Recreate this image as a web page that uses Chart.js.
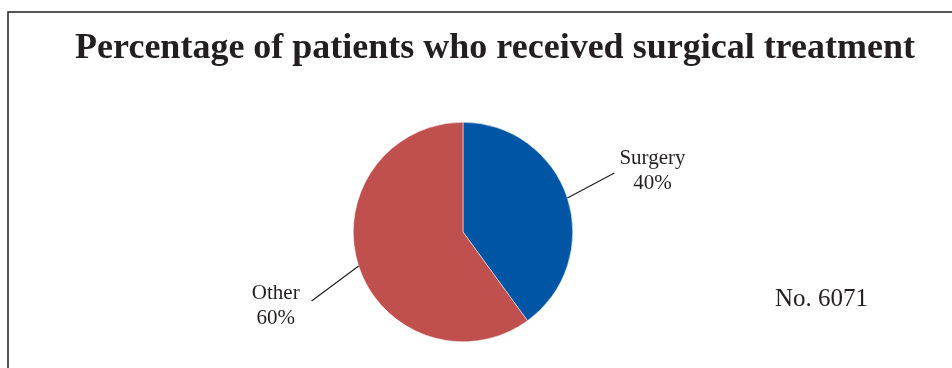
<!DOCTYPE html>
<html>
<head>
<meta charset="utf-8">
<script src="https://cdn.jsdelivr.net/npm/chart.js@4.4.1/dist/chart.umd.min.js"></script>
<style>
  html, body { margin: 0; padding: 0; background: #fff; }
  #wrap { width: 952px; height: 368px; }
</style>
</head>
<body>
<div id="wrap"><canvas id="pieChart" width="952" height="368"></canvas></div>
<script>
// chart data
const categories = ['Surgery', 'Other'];
const percentages = [40, 60];
const sliceColors = ['#0055a5', '#c0504d'];
const chartTitle = 'Percentage of patients who received surgical treatment';
const sampleNote = 'No. 6071';

const textColor = '#231f20';
const serif = '"Liberation Serif", "Times New Roman", serif';

// frame, title, leader lines and note
const decorPlugin = {
  id: 'decor',
  afterDraw(chart) {
    const ctx = chart.ctx;
    ctx.save();

    // frame (only left and top edges are inside the picture)
    ctx.strokeStyle = '#231f20';
    ctx.lineWidth = 1.5;
    ctx.beginPath();
    ctx.moveTo(8, 380);
    ctx.lineTo(8, 12);
    ctx.lineTo(960, 12);
    ctx.stroke();

    // title
    ctx.fillStyle = textColor;
    ctx.font = 'bold 36px ' + serif;
    ctx.textAlign = 'center';
    ctx.textBaseline = 'alphabetic';
    ctx.fillText(chartTitle, 495, 58);

    // slice labels with leader lines
    const meta = chart.getDatasetMeta(0);
    meta.data.forEach((arc, i) => {
      const mid = (arc.startAngle + arc.endAngle) / 2;
      const sx = arc.x + Math.cos(mid) * arc.outerRadius;
      const sy = arc.y + Math.sin(mid) * arc.outerRadius;
      const right = Math.cos(mid) >= 0;
      const ex = sx + (right ? 47 : -47);
      const ey = sy + (Math.sin(mid) < 0 ? -25 : 35);

      ctx.strokeStyle = '#231f20';
      ctx.lineWidth = 1.2;
      ctx.beginPath();
      ctx.moveTo(sx, sy);
      ctx.lineTo(ex, ey);
      ctx.stroke();

      ctx.font = '21px ' + serif;
      ctx.fillStyle = textColor;
      ctx.textAlign = 'center';
      ctx.textBaseline = 'middle';
      const pct = percentages[i] + '%';
      const w = ctx.measureText(categories[i]).width;
      if (right) {
        const cx = ex + 5 + w / 2;
        ctx.fillText(categories[i], cx, ey - 15);
        ctx.fillText(pct, cx, ey + 10);
      } else {
        const cx = ex - 12 - w / 2;
        ctx.fillText(categories[i], cx, ey - 7);
        ctx.fillText(pct, cx, ey + 18);
      }
    });

    // sample size note
    ctx.font = '25px ' + serif;
    ctx.textAlign = 'left';
    ctx.textBaseline = 'alphabetic';
    ctx.fillText(sampleNote, 775, 306);

    ctx.restore();
  }
};

const ctx = document.getElementById('pieChart').getContext('2d');
new Chart(ctx, {
  type: 'pie',
  data: {
    labels: categories,
    datasets: [{
      data: percentages,
      backgroundColor: sliceColors,
      borderColor: '#ffffff',
      borderWidth: 0.5
    }]
  },
  options: {
    responsive: false,
    animation: false,
    layout: {
      padding: { top: 122, bottom: 26, left: 353, right: 379 }
    },
    plugins: {
      legend: { display: false },
      title: { display: false },
      tooltip: { enabled: false }
    }
  },
  plugins: [decorPlugin]
});
</script>
</body>
</html>
